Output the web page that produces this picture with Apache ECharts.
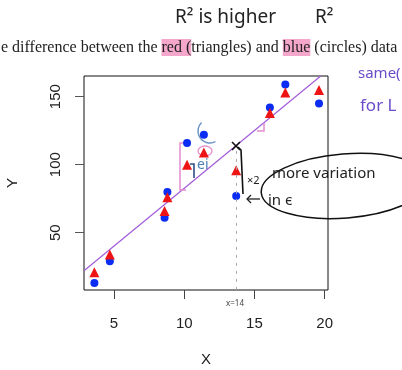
<!DOCTYPE html>
<html>
<head>
<meta charset="utf-8">
<script src="https://cdn.jsdelivr.net/npm/echarts@6/dist/echarts.min.js"></script>
<style>
  html, body { margin: 0; padding: 0; background: #fff; }
  #main { width: 402px; height: 370px; }
</style>
</head>
<body>
<div id="main"></div>
<script>
// values
const xValues = [3.6, 4.7, 8.6, 8.8, 10.2, 11.4, 13.7, 16.1, 17.2, 19.6];
const redValues = [21, 34, 66, 76, 100, 109, 96, 138, 153, 155];
const blueValues = [13, 29, 61, 80, 116, 122, 77, 142, 159, 145];
const fitLine = [[2.86, 22.1], [19.72, 165.2]];
const xTicks = [5, 10, 15, 20];
const yTicks = [50, 100, 150];

const chart = echarts.init(document.getElementById("main"));

const hand = "'Noto Sans', sans-serif";

const option = {
  animation: false,
  backgroundColor: "#fff",
  grid: {
    left: 84, top: 76, right: 74, bottom: 80,
    outerBoundsMode: "none",
    show: true, borderColor: "#111", borderWidth: 1, backgroundColor: "transparent",
  },
  xAxis: {
    type: "value",
    min: 2.86, max: 20.24,
    name: "X", nameLocation: "middle", nameGap: 62,
    nameTextStyle: { fontFamily: "Liberation Sans", fontSize: 15, color: "#222" },
    axisLine: { show: false },
    splitLine: { show: false },
    axisTick: { show: true, length: 9, lineStyle: { color: "#444" }, customValues: xTicks },
    axisLabel: { customValues: xTicks, margin: 26, fontFamily: "Liberation Sans", fontSize: 15, color: "#222" },
  },
  yAxis: {
    type: "value",
    min: 7.9, max: 165.2,
    name: "Y", nameLocation: "middle", nameGap: 64, nameRotate: 90,
    nameTextStyle: { fontFamily: "Liberation Sans", fontSize: 15, color: "#222" },
    axisLine: { show: false },
    splitLine: { show: false },
    axisTick: { show: true, length: 9, lineStyle: { color: "#555" }, customValues: yTicks },
    axisLabel: { customValues: yTicks, rotate: 90, margin: 21, fontFamily: "Liberation Sans", fontSize: 15, color: "#222" },
  },
  series: [
    {
      type: "line",
      data: fitLine,
      symbol: "none",
      lineStyle: { color: "#a15bd8", width: 1.2 },
      clip: true,
      z: 1,
    },
    {
      name: "blue",
      type: "scatter",
      data: xValues.map((x, i) => [x, blueValues[i]]),
      symbol: "circle",
      symbolSize: 8,
      itemStyle: { color: "#0b2cf2", opacity: 1 },
      z: 3,
    },
    {
      name: "red",
      type: "scatter",
      data: xValues.map((x, i) => [x, redValues[i]]),
      symbol: "triangle",
      symbolSize: 10,
      itemStyle: { color: "#ee1414", opacity: 1 },
      z: 4,
      markLine: {
        silent: true,
        symbol: "none",
        label: { show: false },
        lineStyle: { color: "#aaa", type: [3, 5], width: 1 },
        data: [[{ coord: [13.7, 8] }, { coord: [13.7, 112] }]],
      },
    },
  ],
  graphic: [
    // header text from the slide
    {
      type: "text", left: 1, top: 39, z: 10,
      style: {
        text: "e difference between the {hl|red (}triangles) and {hl|blue} (circles) data",
        fontFamily: "Liberation Serif", fontSize: 16, fill: "#222",
        rich: { hl: { backgroundColor: "#f4a6cb", fontFamily: "Liberation Serif", fontSize: 16, padding: [1, 0, 0, 0] } },
      },
    },
    { type: "text", left: 175, top: 8, style: { text: "R² is higher", fontFamily: hand, fontSize: 19, fill: "#222" } },
    { type: "text", left: 315, top: 8, style: { text: "R²", fontFamily: hand, fontSize: 19, fill: "#222" } },
    { type: "text", left: 358, top: 66, style: { text: "same(", fontFamily: hand, fontSize: 15, fill: "#6a4cc8" } },
    { type: "text", left: 360, top: 98, style: { text: "for L", fontFamily: hand, fontSize: 17, fill: "#6a4cc8" } },

    // pink bracket (residual)
    { type: "polyline", z: 2, shape: { points: [[188, 143], [180, 143], [180, 190], [186, 190]] }, style: { stroke: "#e58ccf", lineWidth: 1.5, fill: null } },
    // blue e_i bracket
    { type: "polyline", z: 2, shape: { points: [[190, 164], [194, 164], [194, 178]] }, style: { stroke: "#2e4f86", lineWidth: 1.6, fill: null } },
    { type: "text", left: 197, top: 158, z: 5, style: { text: "ei", fontFamily: hand, fontSize: 14, fill: "#4c7fb7" } },
    // blue arc under blue point
    { type: "arc", z: 2, shape: { cx: 210, cy: 131, r: 12, startAngle: Math.PI * 0.35, endAngle: Math.PI * 1.25 }, style: { stroke: "#6c95c4", lineWidth: 1.5, fill: null } },
    // pink ring near red point
    { type: "ellipse", z: 2, shape: { cx: 205, cy: 151, rx: 7, ry: 5 }, style: { stroke: "#e98fd0", lineWidth: 1.3, fill: null } },
    // pink right angle mark
    { type: "polyline", z: 2, shape: { points: [[257, 131], [264, 131], [264, 123]] }, style: { stroke: "#e58ccf", lineWidth: 1.5, fill: null } },

    // black cross on the line
    { type: "line", z: 5, shape: { x1: 232, y1: 142, x2: 240, y2: 150 }, style: { stroke: "#111", lineWidth: 1.6 } },
    { type: "line", z: 5, shape: { x1: 240, y1: 142, x2: 232, y2: 150 }, style: { stroke: "#111", lineWidth: 1.6 } },
    // black bracket
    { type: "polyline", z: 5, shape: { points: [[238, 147], [241, 150], [243, 194]] }, style: { stroke: "#111", lineWidth: 1.6, fill: null } },
    { type: "text", left: 247, top: 175, z: 5, style: { text: "×2", fontFamily: hand, fontSize: 11, fill: "#222" } },
    { type: "polyline", z: 5, shape: { points: [[260, 199], [247, 199]] }, style: { stroke: "#222", lineWidth: 1.3, fill: null } },
    { type: "polyline", z: 5, shape: { points: [[251, 195], [247, 199], [251, 203]] }, style: { stroke: "#222", lineWidth: 1.3, fill: null } },
    // speech bubble
    {
      type: "ellipse", z: 5,
      x: 345, y: 186, rotation: 0.08,
      shape: { cx: 0, cy: 0, rx: 84, ry: 32 },
      style: { stroke: "#111", lineWidth: 1.5, fill: null },
    },
    { type: "text", left: 272, top: 166, z: 6, style: { text: "more variation", fontFamily: hand, fontSize: 15, fill: "#222" } },
    { type: "text", left: 268, top: 193, z: 6, style: { text: "in ϵ", fontFamily: hand, fontSize: 15, fill: "#222" } },
    // x = 14 label
    { type: "text", left: 226, top: 300, z: 6, style: { text: "x=14", fontFamily: hand, fontSize: 8, fill: "#444" } },
  ],
};

chart.setOption(option);
</script>
</body>
</html>
